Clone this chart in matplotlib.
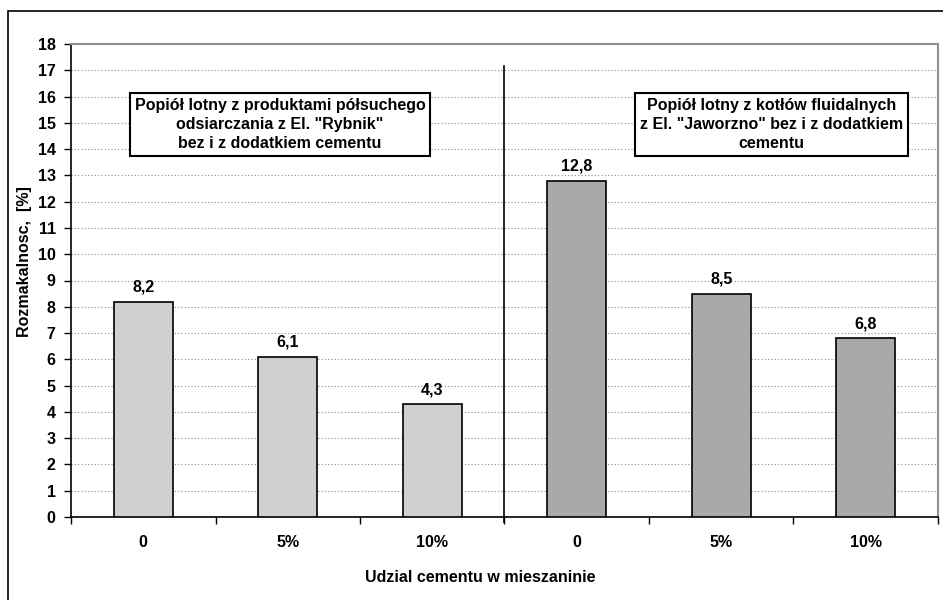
import matplotlib.pyplot as plt
import matplotlib.patches as mpatches
from matplotlib.ticker import FixedLocator, NullFormatter

# ── Data ──────────────────────────────────────────────────────
categories = ["0", "5%", "10%", "0", "5%", "10%"]
values     = [8.2, 6.1, 4.3, 12.8, 8.5, 6.8]
labels     = ["8,2", "6,1", "4,3", "12,8", "8,5", "6,8"]
colors     = ["#D0D0D0"] * 3 + ["#A9A9A9"] * 3

box_left  = 'Popiół lotny z produktami półsuchego\nodsiarczania z El. "Rybnik"\nbez i z dodatkiem cementu'
box_right = 'Popiół lotny z kotłów fluidalnych\nz El. "Jaworzno" bez i z dodatkiem\ncementu'

FS = 11.5

# ── Style ─────────────────────────────────────────────────────
plt.rcParams.update({
    "font.family": ["Liberation Sans", "DejaVu Sans"],
    "font.weight": "bold",
    "font.size":   FS,
})

fig = plt.figure(figsize=(9.43, 6), dpi=100)
ax = fig.add_axes([71 / 943, 83 / 600, 867 / 943, 473 / 600])

# outer frame of the chart area (runs off the right and bottom edges)
fig.patches.append(mpatches.Rectangle(
    (8 / 943, -0.1), 1.2, 1.1 - 11 / 600,
    transform=fig.transFigure, fill=False, edgecolor="black", linewidth=1.2))

x = range(len(values))
ax.bar(x, values, width=0.41, color=colors, edgecolor="black",
       linewidth=1.2, zorder=3)
for xi, v, lab in zip(x, values, labels):
    ax.annotate(lab, (xi, v), xytext=(0, 5), textcoords="offset points",
                ha="center", va="bottom", fontsize=FS, fontweight="bold")

ax.set_xlim(-0.5, len(values) - 0.5)
ax.set_ylim(0, 18)
ax.set_yticks(range(0, 19))
ax.yaxis.grid(True, linestyle=(0, (1, 2)), color="#8a8a8a", linewidth=0.8)
ax.set_axisbelow(True)

ax.set_xticks(list(x))
ax.set_xticklabels(categories)
ax.xaxis.set_minor_locator(FixedLocator([i + 0.5 for i in range(-1, len(values))]))
ax.xaxis.set_minor_formatter(NullFormatter())
ax.tick_params(axis="x", which="major", length=0, pad=13, labelsize=FS)
ax.tick_params(axis="x", which="minor", length=5, width=1, direction="out")
ax.tick_params(axis="y", length=5, width=1, direction="out", pad=6, labelsize=FS)

for side in ("top", "right"):
    ax.spines[side].set_color("#909090")
    ax.spines[side].set_linewidth(1.5)
for side in ("left", "bottom"):
    ax.spines[side].set_color("black")
    ax.spines[side].set_linewidth(1.2)

# divider between the two ash groups
ax.plot([2.5, 2.5], [-0.2, 17.15], color="black", linewidth=1.2,
        clip_on=False, zorder=4)

box_style = dict(boxstyle="square,pad=0.3", facecolor="white",
                 edgecolor="black", linewidth=1.5)
ax.text(0.946, 14.93, box_left, ha="center", va="center", fontsize=FS,
        fontweight="bold", linespacing=1.36, bbox=box_style, zorder=5)
ax.text(4.35, 14.93, box_right, ha="center", va="center", fontsize=FS,
        fontweight="bold", linespacing=1.36, bbox=box_style, zorder=5)

fig.text(25 / 943, 1 - 262 / 600, "Rozmakalnosc,  [%]", rotation=90,
         ha="center", va="center", fontsize=FS, fontweight="bold")
fig.text(480 / 943, 1 - 577 / 600, "Udzial cementu w mieszaninie",
         ha="center", va="center", fontsize=FS, fontweight="bold")

fig.savefig("out.png", dpi=100)
